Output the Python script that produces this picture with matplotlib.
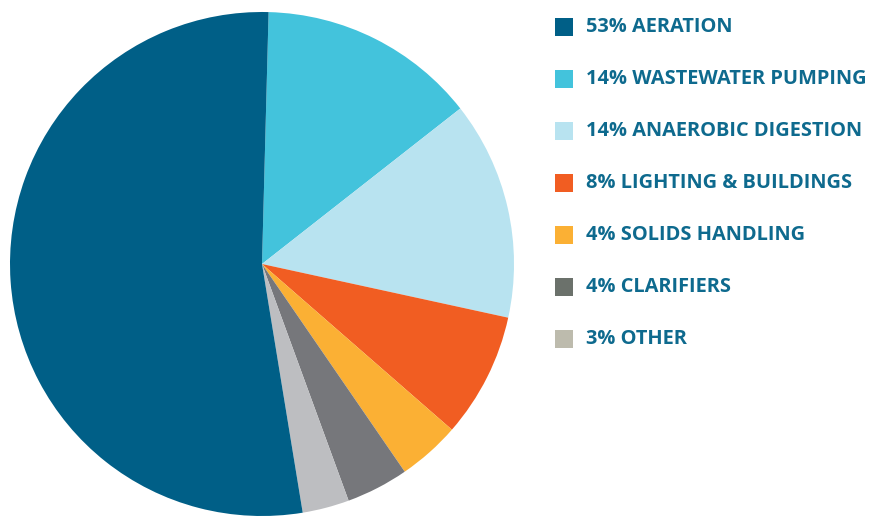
import matplotlib
matplotlib.use("Agg")
import matplotlib.pyplot as plt
from matplotlib.patches import Rectangle

categories = ["AERATION", "WASTEWATER PUMPING", "ANAEROBIC DIGESTION",
              "LIGHTING & BUILDINGS", "SOLIDS HANDLING", "CLARIFIERS", "OTHER"]
values = [53, 14, 14, 8, 4, 4, 3]
slice_colors = ["#005F87", "#43C3DC", "#B8E3F0", "#F15D22", "#FBB034", "#76777B", "#BDBEC1"]
legend_colors = ["#005F87", "#43C3DC", "#B8E3F0", "#F15D22", "#FBB034", "#6B716B", "#BDBBAD"]
labels = [f"{v}% {c}" for v, c in zip(values, categories)]

W, H = 875, 518
fig = plt.figure(figsize=(W / 100, H / 100), dpi=100)
fig.patch.set_facecolor("white")

# clockwise from the top: wastewater pumping ... other, then aeration
pie_values = values[1:] + values[:1]
pie_colors = slice_colors[1:] + slice_colors[:1]

ax = fig.add_axes([10 / W, 2 / H, 504 / W, 504 / H])
ax.pie(pie_values, colors=pie_colors, startangle=88.5, counterclock=False,
       radius=1.0, wedgeprops=dict(linewidth=0))
ax.set_xlim(-1, 1)
ax.set_ylim(-1, 1)
ax.set_aspect("equal")
ax.axis("off")

text_color = "#0E6A8E"
row0 = 27
step = 52
for i, (lab, col) in enumerate(zip(labels, legend_colors)):
    yc = row0 + i * step
    fig.patches.append(Rectangle((555 / W, (H - yc - 9) / H), 18 / W, 18 / H,
                                 transform=fig.transFigure, facecolor=col,
                                 edgecolor="none"))
    fig.text(586 / W, (H - yc) / H, lab, ha="left", va="center",
             fontsize=14.4, fontweight="bold", family=["Open Sans", "DejaVu Sans"],
             color=text_color)

fig.savefig("out.png", dpi=100)
